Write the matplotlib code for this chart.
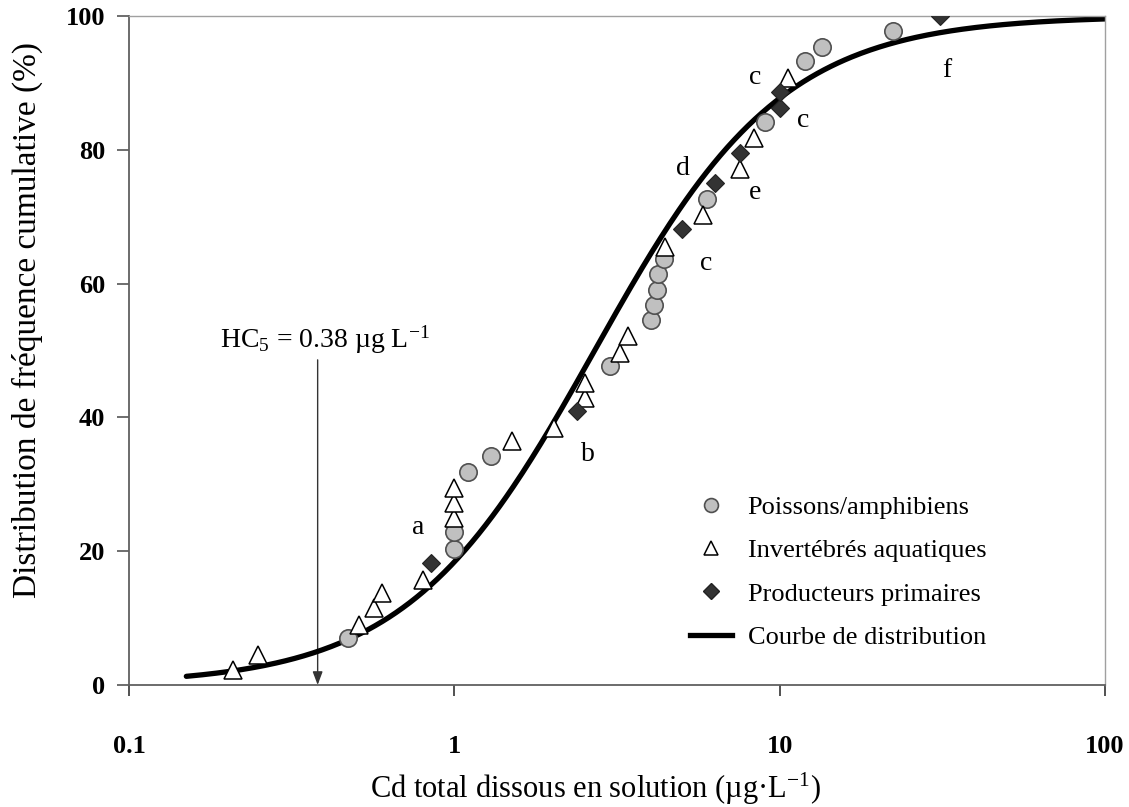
import numpy as np
import matplotlib
matplotlib.use("Agg")
import matplotlib.pyplot as plt
from matplotlib.lines import Line2D

plt.rcParams["font.family"] = ["Liberation Serif", "DejaVu Serif"]
plt.rcParams["mathtext.fontset"] = "custom"
plt.rcParams["mathtext.rm"] = "Liberation Serif"
plt.rcParams["mathtext.it"] = "Liberation Serif:italic"
plt.rcParams["mathtext.bf"] = "Liberation Serif:bold"

# Species sensitivity data (concentration in ug/L, cumulative frequency in %)
fish_x = [0.47, 1.0, 1.0, 1.10, 1.30, 3.02, 4.01, 4.10, 4.20, 4.22, 4.41, 6.0, 9.02, 12.0, 13.5, 22.3]
fish_y = [7.0, 20.4, 22.8, 31.9, 34.2, 47.7, 54.6, 56.8, 59.0, 61.4, 63.6, 72.6, 84.1, 93.2, 95.4, 97.7]

invert_x = [0.209, 0.25, 0.508, 0.567, 0.60, 0.80, 1.0, 1.0, 1.0, 1.5, 2.02, 2.53, 2.53, 3.24, 3.41,
            4.45, 5.82, 7.55, 8.34, 10.6]
invert_y = [2.2, 4.5, 9.0, 11.5, 13.8, 15.7, 25.0, 27.2, 29.4, 36.4, 38.4, 42.9, 45.1, 49.6, 52.1,
            65.5, 70.3, 77.2, 81.7, 90.7]

prod_x = [0.85, 2.39, 5.01, 6.35, 7.55, 10.0, 10.0, 31.1]
prod_y = [18.2, 40.9, 68.1, 75.1, 79.5, 86.3, 88.7, 100.0]

# Fitted log-logistic distribution
fit_median = 2.7
fit_slope = 1.5
curve_min, curve_max = 0.15, 100.0

hc5 = 0.38

# Letter labels next to points
letters = ["a", "b", "c", "c", "c", "d", "e", "f"]
letter_x = [0.775, 2.58, 5.96, 8.43, 11.8, 5.05, 8.43, 32.7]
letter_y = [23.5, 34.4, 63.0, 90.8, 84.4, 77.2, 73.6, 91.9]

x_ticks = [0.1, 1, 10, 100]
x_tick_labels = ["0.1", "1", "10", "100"]
y_ticks = [0, 20, 40, 60, 80, 100]

fig = plt.figure(figsize=(11.29, 8.07), dpi=100)
ax = fig.add_axes([0.1143, 0.1512, 0.8644, 0.829])

xc = np.logspace(np.log10(curve_min), np.log10(curve_max), 400)
yc = 100.0 / (1.0 + (xc / fit_median) ** (-fit_slope))
ax.plot(xc, yc, color="black", lw=3.8, solid_capstyle="round", zorder=2)

ax.plot(fish_x, fish_y, "o", ms=12.5, mfc="#c0c0c0", mec="#505050", mew=1.2, zorder=3)
ax.plot(invert_x, invert_y, "^", ms=13, mfc="white", mec="black", mew=1.1, zorder=3)
ax.plot(prod_x, prod_y, "D", ms=9.5, mfc="#333333", mec="#222222", mew=0.8, zorder=4)

for t, x, y in zip(letters, letter_x, letter_y):
    ax.text(x, y, t, fontsize=20, ha="center", va="center")

# HC5 marker
ax.annotate("", xy=(hc5, 0), xytext=(hc5, 48.6),
            arrowprops=dict(arrowstyle="-|>,head_length=0.8,head_width=0.3",
                            color="#333333", lw=1.0, shrinkA=0, shrinkB=0),
            zorder=1)
ax.text(0.19, 51.6, r"HC$\mathregular{_5}$ = 0.38 µg L$\mathregular{^{-1}}$", fontsize=20,
        ha="left", va="center")

ax.set_xscale("log")
ax.set_xlim(0.1, 100)
ax.set_ylim(0, 100)
ax.set_xticks(x_ticks)
ax.set_xticklabels(x_tick_labels)
ax.xaxis.set_minor_locator(matplotlib.ticker.NullLocator())
ax.set_yticks(y_ticks)

for lab in ax.get_xticklabels() + ax.get_yticklabels():
    lab.set_fontweight("bold")
    lab.set_fontsize(19)

ax.tick_params(axis="x", direction="out", length=8, width=1.2, color="#333333", pad=28)
ax.tick_params(axis="y", direction="out", length=9, width=1.2, color="#555555", pad=8)

for side in ["left", "bottom"]:
    ax.spines[side].set_color("#606060")
    ax.spines[side].set_linewidth(1.3)
for side in ["top", "right"]:
    ax.spines[side].set_color("#a0a0a0")
    ax.spines[side].set_linewidth(1.0)

ax.set_xlabel("Cd total dissous en solution (µg·L$\\mathregular{^{-1}}$)", fontsize=22)
ax.xaxis.set_label_coords(0.478, -0.128)
ax.set_ylabel("Distribution de fréquence cumulative (%)", fontsize=24)
ax.yaxis.set_label_coords(-0.088, 0.546)

handles = [
    Line2D([], [], ls="none", marker="o", ms=10, mfc="#c0c0c0", mec="#505050", mew=1.2),
    Line2D([], [], ls="none", marker="^", ms=10, mfc="white", mec="black", mew=1.1),
    Line2D([], [], ls="none", marker="D", ms=8, mfc="#333333", mec="#222222"),
    Line2D([], [], color="black", lw=3.8),
]
labels = ["Poissons/amphibiens", "Invertébrés aquatiques", "Producteurs primaires",
          "Courbe de distribution"]
ax.legend(handles, labels, loc="upper left", bbox_to_anchor=(0.5635, 0.299),
          frameon=False, fontsize=19, handlelength=1.6, handletextpad=0.6,
          labelspacing=0.75, borderaxespad=0)

fig.savefig("out.png", dpi=100)
